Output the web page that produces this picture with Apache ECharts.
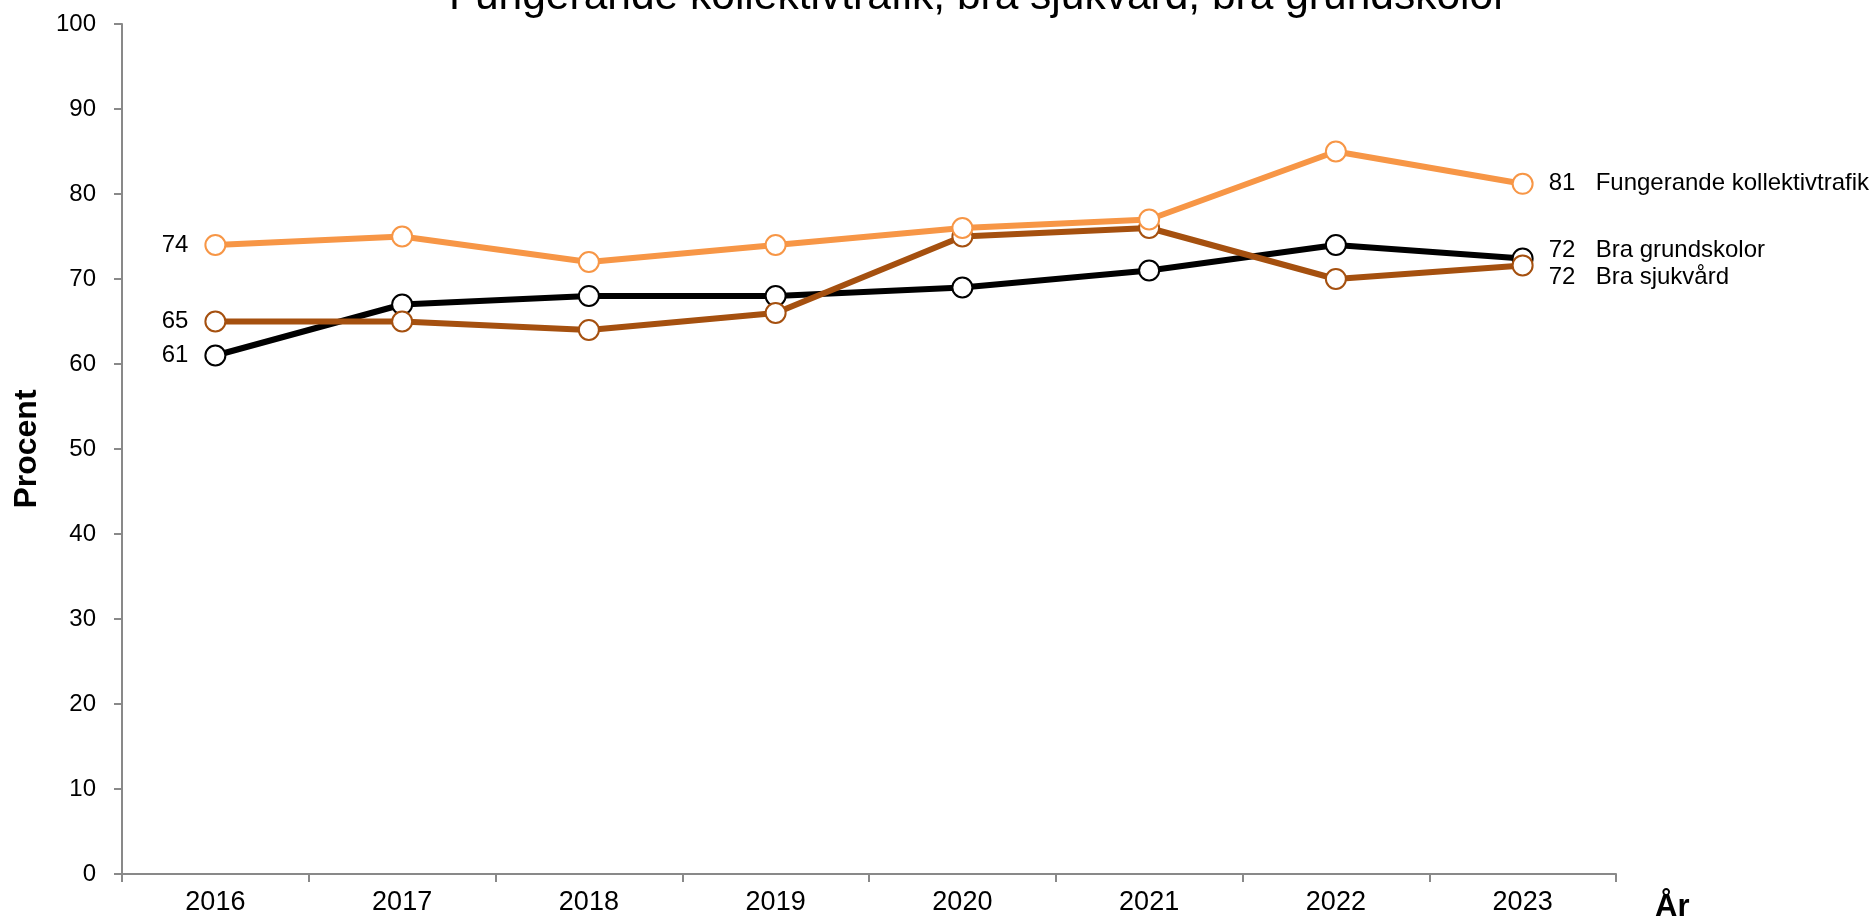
<!DOCTYPE html>
<html>
<head>
<meta charset="utf-8">
<title>Fungerande kollektivtrafik, bra sjukvård, bra grundskolor</title>
<script src="https://cdn.jsdelivr.net/npm/echarts@6/dist/echarts.min.js"></script>
<style>
  html, body { margin: 0; padding: 0; background: #fff; }
  #chart { width: 1874px; height: 917px; }
</style>
</head>
<body>
<div id="chart"></div>
<script>
const years = ['2016', '2017', '2018', '2019', '2020', '2021', '2022', '2023']
const grundskolor = [61, 67, 68, 68, 69, 71, 74, 72.4]
const sjukvard = [65, 65, 64, 66, 75, 76, 70, 71.6]
const kollektivtrafik = [74, 75, 72, 74, 76, 77, 85, 81.2]

const FONT = '"Liberation Sans", Arial, sans-serif'

// first point gets a label on the left, last one the value + name on the right
function buildData(values, name, endOffset) {
  return values.map((v, i) => {
    if (i === 0) {
      return {
        value: v,
        label: {
          show: true, position: 'left', distance: 16,
          formatter: p => Math.round(p.value),
          color: '#000', fontSize: 24, fontFamily: FONT
        }
      }
    }
    if (i === values.length - 1) {
      return {
        value: v,
        label: {
          show: true, position: 'right', distance: 15, offset: endOffset,
          formatter: p => '{v|' + Math.round(p.value) + '}{n|' + name + '}',
          rich: {
            v: { width: 47, fontSize: 24, color: '#000', fontFamily: FONT },
            n: { fontSize: 24, color: '#000', fontFamily: FONT }
          }
        }
      }
    }
    return v
  })
}

function lineSeries(name, values, color, endOffset) {
  return {
    name: name,
    type: 'line',
    data: buildData(values, name, endOffset),
    symbol: 'circle',
    symbolSize: 20,
    lineStyle: { color: color, width: 6 },
    itemStyle: { color: '#fff', borderColor: color, borderWidth: 2 },
    emphasis: { disabled: true },
    z: 2
  }
}

const myChart = echarts.init(document.getElementById('chart'))

const option = {
  animation: false,
  backgroundColor: '#fff',
  textStyle: { fontFamily: FONT },
  title: {
    text: 'Fungerande kollektivtrafik, bra sjukvård, bra grundskolor',
    left: 449,
    top: -24,
    padding: 0,
    textStyle: { fontSize: 42.5, fontWeight: 'normal', color: '#000', fontFamily: FONT }
  },
  grid: { left: 122, right: 258, top: 24, bottom: 43, containLabel: false, outerBoundsMode: 'none' },
  xAxis: {
    type: 'category',
    data: years,
    boundaryGap: true,
    name: 'År',
    nameLocation: 'end',
    nameGap: 39,
    nameTextStyle: {
      fontSize: 31, fontWeight: 'bold', color: '#000', fontFamily: FONT,
      verticalAlign: 'top', padding: [18, 0, 0, 0]
    },
    axisLine: { lineStyle: { color: '#898989', width: 2 } },
    axisTick: { show: true, length: 8, lineStyle: { color: '#898989', width: 2 } },
    axisLabel: { fontSize: 27, color: '#000', margin: 15, fontFamily: FONT },
    splitLine: { show: false }
  },
  yAxis: {
    type: 'value',
    min: 0,
    max: 100,
    interval: 10,
    name: 'Procent',
    nameLocation: 'middle',
    nameRotate: 90,
    nameGap: 79,
    nameTextStyle: { fontSize: 32, fontWeight: 'bold', color: '#000', fontFamily: FONT },
    axisLine: { show: true, lineStyle: { color: '#898989', width: 2 } },
    axisTick: { show: true, length: 8, lineStyle: { color: '#898989', width: 2 } },
    axisLabel: { fontSize: 24, color: '#000', margin: 26, fontFamily: FONT },
    splitLine: { show: false }
  },
  series: [
    lineSeries('Bra grundskolor', grundskolor, '#000000', [0, -8]),
    lineSeries('Bra sjukvård', sjukvard, '#A5500F', [0, 12]),
    lineSeries('Fungerande kollektivtrafik', kollektivtrafik, '#F79646', [0, 0])
  ]
}

option && myChart.setOption(option)
window.addEventListener('resize', myChart.resize)
</script>
</body>
</html>
